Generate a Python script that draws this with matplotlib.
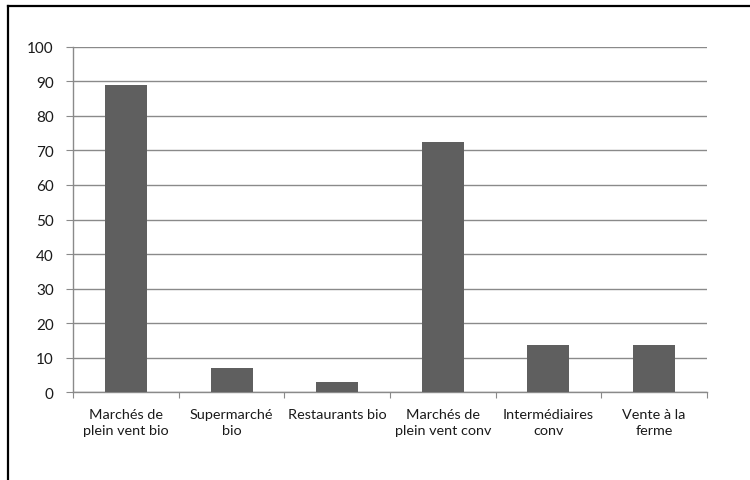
import matplotlib
matplotlib.use("Agg")
import matplotlib.pyplot as plt
from matplotlib.lines import Line2D
import numpy as np

categories = ["Marchés de\nplein vent bio", "Supermarché\nbio", "Restaurants bio",
              "Marchés de\nplein vent conv", "Intermédiaires\nconv", "Vente à la\nferme"]
values = [89, 7, 3, 72.3, 13.8, 13.8]
yticks = [0, 10, 20, 30, 40, 50, 60, 70, 80, 90, 100]

plt.rcParams['font.family'] = ['Lato', 'DejaVu Sans']

fig = plt.figure(figsize=(7.5, 4.81), dpi=100)
ax = fig.add_axes([73.3/750, 1-393.3/481, (706.7-73.3)/750, (393.3-47.7)/481])

x = np.arange(len(categories))
ax.bar(x, values, width=0.40, color='#5f5f5f', zorder=3)

ax.set_xlim(-0.5, len(categories)-0.5)
ax.set_ylim(0, 100)
ax.set_yticks(yticks)
ax.yaxis.grid(True, color='#8a8a8a', linewidth=1.0, zorder=0)

ax.set_xticks(np.arange(len(categories)+1) - 0.5)
ax.set_xticklabels([])
ax.set_xticks(x, minor=True)
ax.set_xticklabels(categories, minor=True, fontsize=10.4, color='#1a1a1a', linespacing=1.45)
ax.tick_params(axis='x', which='minor', length=0, pad=11)
ax.tick_params(axis='x', which='major', length=4, color='#8a8a8a', direction='out')
ax.tick_params(axis='y', length=5, color='#8a8a8a', pad=9, labelsize=11, labelcolor='#1a1a1a')

for s in ['top', 'right']:
    ax.spines[s].set_visible(False)
for s in ['left', 'bottom']:
    ax.spines[s].set_color('#8a8a8a')
    ax.spines[s].set_linewidth(1.0)

# outer frame (left and top only visible)
fig.add_artist(Line2D([8/750, 8/750], [0, 1-7/481], color='black', linewidth=1.6, transform=fig.transFigure))
fig.add_artist(Line2D([8/750, 1], [1-7/481, 1-7/481], color='black', linewidth=1.6, transform=fig.transFigure))

fig.savefig("out.png", dpi=100)
